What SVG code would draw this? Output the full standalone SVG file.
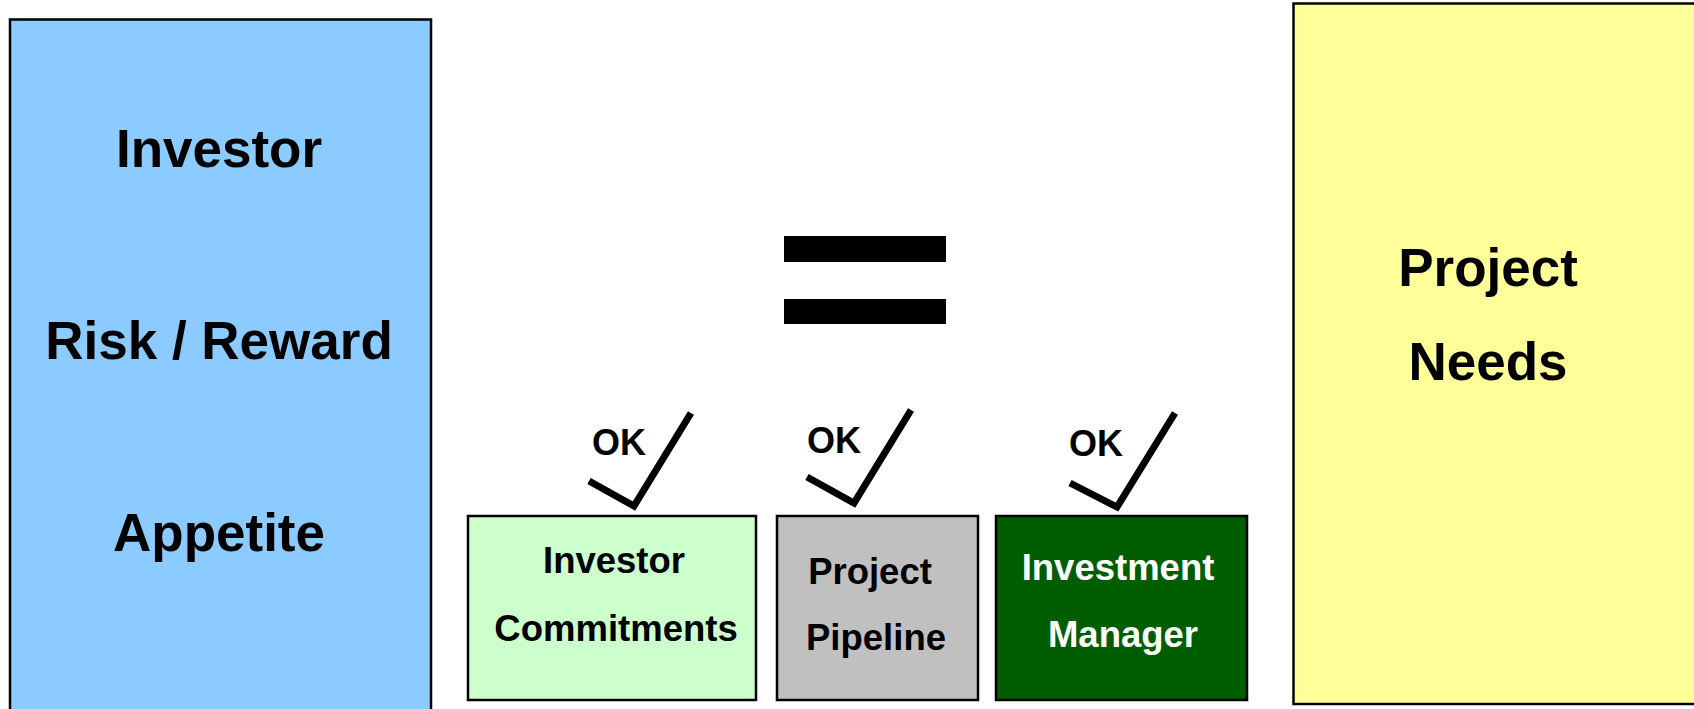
<svg xmlns="http://www.w3.org/2000/svg" width="1694" height="709" viewBox="0 0 1694 709">
<style>
  .box { stroke: #000; stroke-width: 2.5; }
  .big { font-family: "Liberation Sans", Arial, sans-serif; font-weight: bold; font-size: 53px; fill: #000; text-anchor: middle; }
  .small { font-family: "Liberation Sans", Arial, sans-serif; font-weight: bold; font-size: 36.5px; fill: #000; text-anchor: middle; }
  .ok { font-family: "Liberation Sans", Arial, sans-serif; font-weight: bold; font-size: 36px; fill: #000; }
  .check { fill: none; stroke: #000; stroke-width: 7; stroke-linejoin: miter; }
</style>
<rect width="1694" height="709" fill="#fff"/>
<g id="investor-appetite">
  <rect class="box" x="10" y="19.5" width="421" height="700" fill="#8CCBFF"/>
  <text class="big" x="219" y="167">Investor</text>
  <text class="big" x="219" y="359">Risk / Reward</text>
  <text class="big" x="219" y="551">Appetite</text>
</g>
<g id="equals">
  <rect x="784" y="236" width="162" height="26" fill="#000"/>
  <rect x="784" y="299" width="162" height="25" fill="#000"/>
</g>
<g id="project-needs">
  <rect class="box" x="1293.5" y="3.5" width="420" height="700.5" fill="#FFFF99"/>
  <text class="big" x="1488" y="286">Project</text>
  <text class="big" x="1488" y="380">Needs</text>
</g>
<g id="investor-commitments">
  <rect class="box" x="468" y="516" width="288" height="184" fill="#CCFFCC"/>
  <text class="small" x="614" y="573">Investor</text>
  <text class="small" x="616" y="641">Commitments</text>
</g>
<g id="project-pipeline">
  <rect class="box" x="777" y="516" width="201" height="184" fill="#C0C0C0"/>
  <text class="small" x="870" y="584">Project</text>
  <text class="small" x="876" y="650">Pipeline</text>
</g>
<g id="investment-manager">
  <rect class="box" x="996" y="516" width="251" height="184" fill="#005E00"/>
  <text class="small" x="1118" y="580" style="fill:#fff">Investment</text>
  <text class="small" x="1123" y="647" style="fill:#fff">Manager</text>
</g>
<g id="checks">
  <g id="check-1">
    <text class="ok" x="592" y="455">OK</text>
    <polyline class="check" points="589,481 634,506 691,413"/>
  </g>
  <g id="check-2">
    <text class="ok" x="807" y="453">OK</text>
    <polyline class="check" points="807,477 854,503 911,410"/>
  </g>
  <g id="check-3">
    <text class="ok" x="1069" y="456">OK</text>
    <polyline class="check" points="1070,483 1117,507 1175,413"/>
  </g>
</g>
<g id="connectors"></g>
</svg>
